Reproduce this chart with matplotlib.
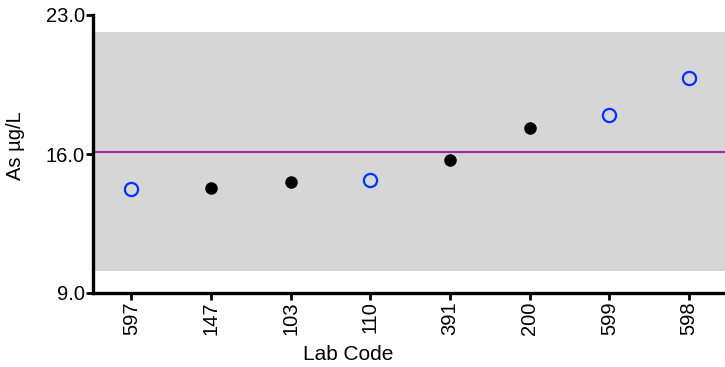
import matplotlib
matplotlib.use("Agg")
import matplotlib.pyplot as plt

plt.rcParams['font.family'] = ['Liberation Sans', 'DejaVu Sans']

lab_codes = ["597", "147", "103", "110", "391", "200", "599", "598"]
values = [14.22, 14.30, 14.60, 14.70, 15.70, 17.33, 17.94, 19.83]
open_marker = [True, False, False, True, False, False, True, True]
assigned_value = 16.12
band_low, band_high = 10.13, 22.14
y_ticks = [9.0, 16.0, 23.0]

fig = plt.figure(figsize=(7.25, 3.67), dpi=100)
ax = fig.add_axes([93/725, 1-293/367, 1-93/725, (293-15)/367])

ax.axhspan(band_low, band_high, color='#D6D6D6', zorder=0, lw=0)
ax.axhline(assigned_value, color='#993399', lw=1.6, zorder=1)

xs = list(range(len(lab_codes)))
for x, v, o in zip(xs, values, open_marker):
    if o:
        ax.plot(x, v, 'o', ms=9.5, mfc='none', mec='#0033FF', mew=1.6, zorder=3)
    else:
        ax.plot(x, v, 'o', ms=9, mfc='black', mec='black', mew=0, zorder=3)

ax.set_ylim(9.0, 23.0)
ax.set_xlim(-0.48, 7.45)
ax.set_yticks(y_ticks)
ax.set_yticklabels([f"{t:.1f}" for t in y_ticks], fontsize=14.5)
ax.set_xticks(xs)
ax.set_xticklabels(lab_codes, rotation=90, fontsize=14.5)

for s in ['top', 'right']:
    ax.spines[s].set_visible(False)
for s in ['left', 'bottom']:
    ax.spines[s].set_linewidth(2.4)
ax.tick_params(axis='both', width=2, length=5, pad=1)

ax.set_ylabel("As µg/L", fontsize=14.5, va='center')
ax.yaxis.set_label_coords(-0.122, 0.53)
ax.set_xlabel("Lab Code", fontsize=15, va='center')
ax.xaxis.set_label_coords(0.403, -0.22)

fig.savefig("out.png", dpi=100)
